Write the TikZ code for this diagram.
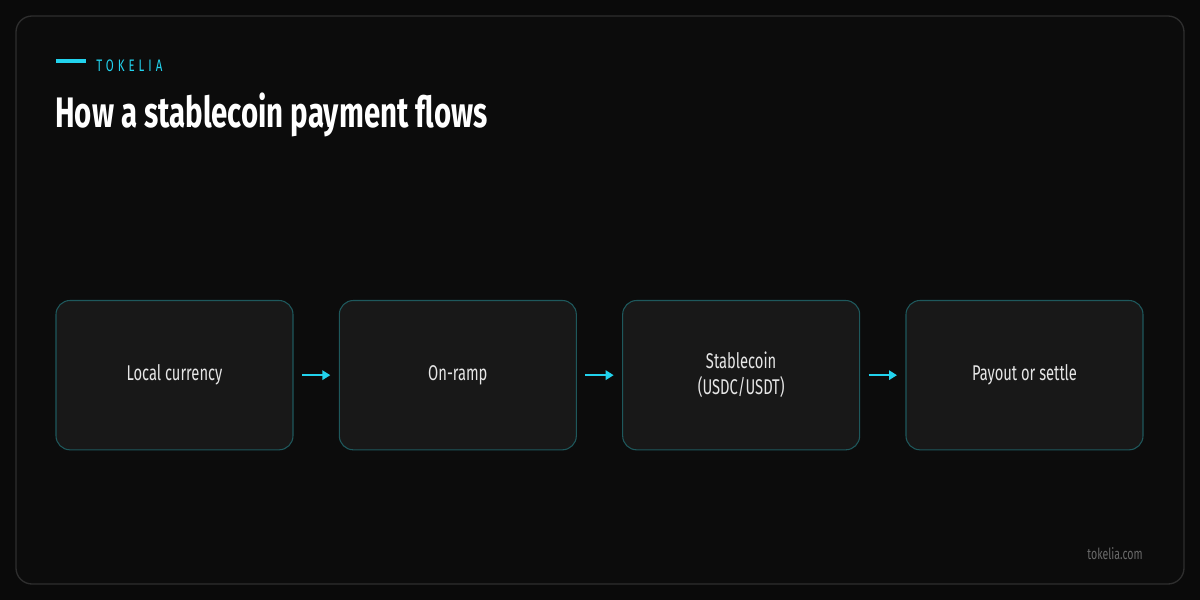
\documentclass[tikz,border=0pt]{standalone}
\usepackage{fontspec}
\setmainfont{Fira Sans}[FakeStretch=0.69]
\newfontfamily\headfont{Fira Sans}[FakeStretch=0.69]
\usetikzlibrary{positioning,arrows.meta}

\definecolor{pagebg}{HTML}{0A0A0A}
\definecolor{framebg}{HTML}{0C0C0C}
\definecolor{frameline}{HTML}{2E2E2E}
\definecolor{boxbg}{HTML}{181818}
\definecolor{boxline}{HTML}{1E585C}
\definecolor{accent}{HTML}{22D3EE}
\definecolor{bodytext}{HTML}{E6E6E6}
\definecolor{foottext}{HTML}{6A6A6A}

\begin{document}
\begin{tikzpicture}[
    x=0.75pt, y=-0.75pt,
    node distance=34.75pt,
    stepbox/.style={draw=boxline, line width=0.8pt, fill=boxbg, rounded corners=10.5pt,
      minimum width=177.75pt, minimum height=112pt, align=center, outer sep=0pt,
      text=bodytext, font=\fontsize{16}{19.5}\selectfont, inner sep=0pt},
    flow/.style={-{Triangle[length=6pt,width=7pt]}, draw=accent, line width=1.5pt, shorten <=6.75pt, shorten >=6.75pt}
  ]

  % page and frame
  \fill[pagebg] (0,0) rectangle (1200,600);
  \draw[frameline, fill=framebg, line width=1pt, rounded corners=12pt] (16,16) rectangle (1184,584);

  % heading
  \draw[accent, line width=2.4pt] (56,61) -- (86,61);
  \node[anchor=west, inner sep=0pt, text=accent, font=\fontsize{12.5}{14}\selectfont\addfontfeature{LetterSpace=24}] (brand) at (96,66) {TOKELIA};
  \node[anchor=base west, inner sep=0pt, text=white, font=\headfont\bfseries\fontsize{32}{36}\selectfont] (title) at (55,127) {How a stablecoin payment flows};

  % flow
  \node[stepbox, anchor=north west] (local) at (56,300.5) {Local currency};
  \node[stepbox, right=of local] (onramp) {On-ramp};
  \node[stepbox, right=of onramp] (coin) {Stablecoin\\(USDC/USDT)};
  \node[stepbox, right=of coin] (payout) {Payout or settle};

  \draw[flow] (local) -- (onramp);
  \draw[flow] (onramp) -- (coin);
  \draw[flow] (coin) -- (payout);

  % footer
  \node[anchor=base east, inner sep=0pt, text=foottext, font=\fontsize{11.5}{13}\selectfont] (site) at (1143,559) {tokelia.com};

\end{tikzpicture}
\end{document}
